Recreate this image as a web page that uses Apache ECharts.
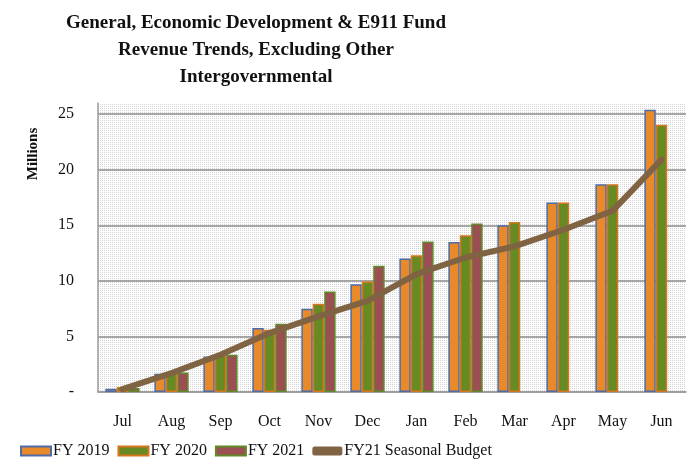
<!DOCTYPE html>
<html>
<head>
<meta charset="utf-8">
<script src="https://cdn.jsdelivr.net/npm/echarts@6/dist/echarts.min.js"></script>
<style>
html,body{margin:0;padding:0;background:#fff;}
#chart{width:700px;height:460px;}
</style>
</head>
<body>
<div id="chart"></div>
<script>
// data (millions)
var months = ['Jul','Aug','Sep','Oct','Nov','Dec','Jan','Feb','Mar','Apr','May','Jun'];
var fy2019 = [0.3, 1.65, 3.2, 5.75, 7.5, 9.7, 12.0, 13.5, 15.0, 17.05, 18.7, 25.4];
var fy2020 = [0.45, 1.8, 3.45, 5.6, 7.95, 9.95, 12.3, 14.1, 15.3, 17.05, 18.7, 24.05];
var fy2021 = [0.35, 1.75, 3.35, 6.15, 9.05, 11.35, 13.55, 15.15, null, null, null, null];
var budget = [0.25, 1.7, 3.35, 5.3, 6.8, 8.2, 10.6, 12.1, 13.1, 14.6, 16.3, 20.9];

var serif = '"Liberation Serif", "DejaVu Serif", serif';

// dotted plot background like the excel pattern fill
var dots = document.createElement('canvas');
dots.width = 2; dots.height = 2;
var dctx = dots.getContext('2d');
dctx.fillStyle = '#ffffff';
dctx.fillRect(0, 0, 2, 2);
dctx.fillStyle = '#d2d2d2';
dctx.fillRect(0, 0, 1, 1);

var chart = echarts.init(document.getElementById('chart'));
var option = {
	animation: false,
	title: {
		text: 'General, Economic Development & E911 Fund\nRevenue Trends, Excluding Other\nIntergovernmental',
		left: 251,
		top: 5,
		textAlign: 'center',
		textStyle: {
			fontFamily: serif,
			fontWeight: 'bold',
			fontSize: 19,
			lineHeight: 27,
			color: '#111'
		}
	},
	graphic: [{
		type: 'text',
		x: 33,
		y: 154,
		rotation: Math.PI / 2,
		style: {
			text: 'Millions',
			font: 'bold 15px ' + serif,
			fill: '#111',
			align: 'center',
			verticalAlign: 'middle'
		}
	}],
	legend: {
		left: 15,
		top: 438,
		itemWidth: 30,
		itemHeight: 9,
		itemGap: 8,
		textStyle: { fontFamily: serif, fontSize: 16, color: '#111', padding: [0, 0, 0, -3] },
		data: [
			{ name: 'FY 2019', icon: 'rect' },
			{ name: 'FY 2020', icon: 'rect' },
			{ name: 'FY 2021', icon: 'rect' },
			{ name: 'FY21 Seasonal Budget', icon: 'roundRect', itemStyle: { color: '#7f6343', borderWidth: 0 } }
		]
	},
	grid: {
		left: 98,
		right: 14,
		top: 103,
		bottom: 68,
		show: true,
		backgroundColor: { image: dots, repeat: 'repeat' },
		borderWidth: 0
	},
	xAxis: {
		type: 'category',
		data: months,
		axisTick: { show: false },
		axisLine: { lineStyle: { color: '#9a9a9a', width: 1.5 } },
		axisLabel: { margin: 22, fontFamily: serif, fontSize: 16, color: '#111' }
	},
	yAxis: {
		type: 'value',
		min: 0,
		max: 26,
		interval: 5,
		axisLine: { show: true, lineStyle: { color: '#9a9a9a', width: 1.5 } },
		axisTick: { show: false },
		axisLabel: {
			margin: 24,
			showMaxLabel: false,
			fontFamily: serif,
			fontSize: 16,
			color: '#111',
			formatter: function (v) { return v === 0 ? '-' : v; }
		},
		splitLine: { showMaxLine: false, lineStyle: { color: '#8c8c8c', width: 1.5 } }
	},
	series: [
		{
			name: 'FY 2019', type: 'bar', data: fy2019,
			barGap: 0, barCategoryGap: '30%',
			itemStyle: { color: '#e8892a', borderColor: '#4f6ba8', borderWidth: 1.5 }
		},
		{
			name: 'FY 2020', type: 'bar', data: fy2020,
			itemStyle: { color: '#678a22', borderColor: '#d8761f', borderWidth: 1.5 }
		},
		{
			name: 'FY 2021', type: 'bar', data: fy2021,
			itemStyle: { color: '#9c4f53', borderColor: '#5e8a28', borderWidth: 1.5 }
		},
		{
			name: 'FY21 Seasonal Budget', type: 'line', data: budget,
			symbol: 'none',
			lineStyle: { color: '#7f6343', width: 6, cap: 'round', join: 'round' },
			itemStyle: { color: '#7f6343' },
			z: 5
		}
	]
};
chart.setOption(option);
</script>
</body>
</html>
